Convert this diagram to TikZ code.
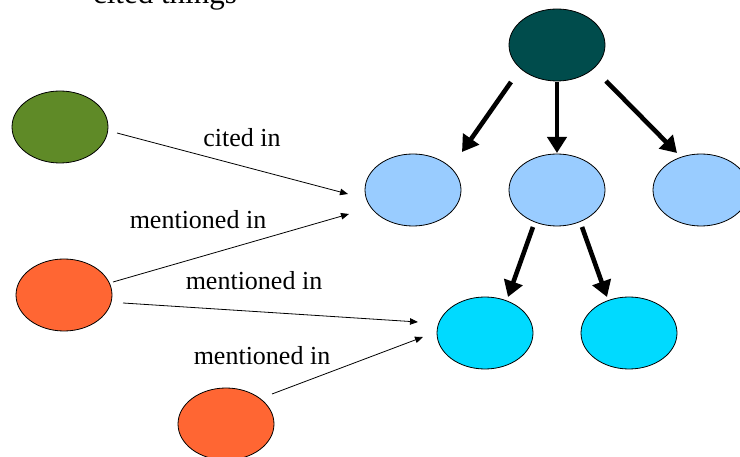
\documentclass[tikz,border=0pt]{standalone}
\usepackage{fontspec}
\setmainfont{Liberation Serif}
\usetikzlibrary{shapes.geometric,arrows.meta,calc}
\definecolor{darkteal}{HTML}{004C4C}
\definecolor{olive}{HTML}{5F8A27}
\definecolor{orng}{HTML}{FF6633}
\definecolor{lblue}{HTML}{99CCFF}
\definecolor{cyanb}{HTML}{00DAFF}
\tikzset{
  blob/.style={ellipse,draw=black,line width=0.8pt,minimum width=96pt,minimum height=72pt,inner sep=0pt},
  thick arrow/.style={line width=4.6pt,-{Triangle[length=16pt,width=19pt]}},
  thin arrow/.style={line width=0.8pt,-{Triangle[length=8pt,width=6.5pt]}},
  lbl/.style={font=\fontsize{26}{28}\selectfont,inner sep=0pt}
}
\begin{document}
\begin{tikzpicture}[x=1pt,y=-1pt]
\useasboundingbox (0,0) rectangle (740,457);
\clip (0,0) rectangle (740,457);
\node[inner sep=0pt,anchor=base,font=\fontsize{31}{33}\selectfont] (title) at (165,4) {cited things};
\node[blob,fill=darkteal] (top) at (557,45) {};
\node[blob,fill=olive] (g) at (60,127) {};
\node[blob,fill=lblue] (lb1) at (413,190) {};
\node[blob,fill=lblue] (lb2) at (557,190) {};
\node[blob,fill=lblue] (lb3) at (701,190) {};
\node[blob,fill=cyanb] (c1) at (485,333) {};
\node[blob,fill=cyanb] (c2) at (629,333) {};
\node[blob,fill=orng] (o1) at (64,295) {};
\node[blob,fill=orng] (o2) at (226,424) {};
\draw[thick arrow] ($(top.center)+(-46,37)$) -- ($(lb1.center)+(49,-38)$);
\draw[thick arrow] ($(top.center)+(0,37)$) -- ($(lb2.center)+(0,-37)$);
\draw[thick arrow] ($(top.center)+(49,36)$) -- ($(lb3.center)+(-24,-37)$);
\draw[thick arrow] ($(lb2.center)+(-24,37)$) -- ($(c1.center)+(23,-36)$);
\draw[thick arrow] ($(lb2.center)+(25,37)$) -- ($(c2.center)+(-22,-36)$);
\draw[thin arrow] ($(g.center)+(57,6)$) -- ($(lb1.center)+(-65,4)$);
\draw[thin arrow] ($(o1.center)+(49,-13)$) -- ($(lb1.center)+(-64,24)$);
\draw[thin arrow] ($(o1.center)+(59,8)$) -- ($(c1.center)+(-67,-11)$);
\draw[thin arrow] ($(o2.center)+(46,-30)$) -- ($(c1.center)+(-62,4)$);
\node[lbl] (l1) at (242,138) {cited in};
\node[lbl] (l2) at (198,220) {mentioned in};
\node[lbl] (l3) at (254,281) {mentioned in};
\node[lbl] (l4) at (262,356) {mentioned in};
\end{tikzpicture}
\end{document}
